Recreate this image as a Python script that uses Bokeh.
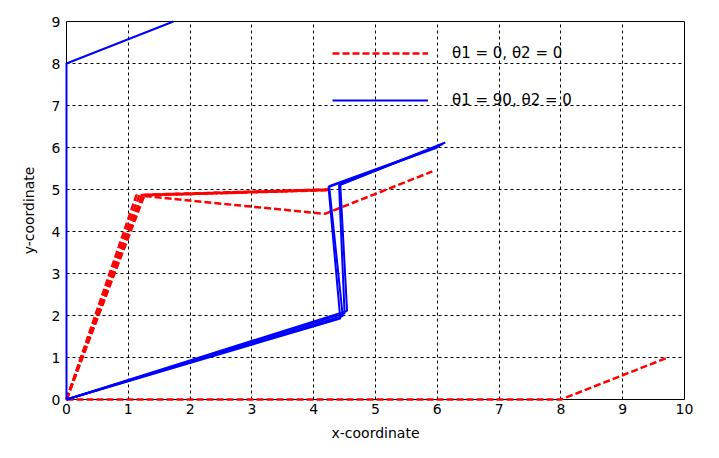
from bokeh.plotting import figure
from bokeh.models import FixedTicker, Legend, LegendItem, Range1d
from bokeh.embed import file_html
from bokeh.resources import INLINE

# ---- data ----
x_ticks = [0, 1, 2, 3, 4, 5, 6, 7, 8, 9, 10]
y_ticks = [0, 1, 2, 3, 4, 5, 6, 7, 8, 9]

# theta1 = 0, theta2 = 0 (red, dashed) - arm traces
red_xs = [
    [0, 5, 8, 9.73],
    [0, 1.13, 4.22],
    [0, 1.18, 4.24],
    [0, 1.23, 4.25],
    [0, 1.26, 4.2],
    [0, 1.22, 4.18, 5.92],
]
red_ys = [
    [0, 0, 0, 1.0],
    [0, 4.86, 4.98],
    [0, 4.87, 5.0],
    [0, 4.87, 5.0],
    [0, 4.86, 4.99],
    [0, 4.85, 4.42, 5.43],
]

# theta1 = 90, theta2 = 0 (blue, solid) - arm traces
blue_xs = [
    [0, 0, 0, 1.73],
    [0, 4.43, 4.24, 6.0],
    [0, 4.47, 4.25, 6.04],
    [0, 4.50, 4.41, 6.09],
    [0, 4.54, 4.43, 6.13],
]
blue_ys = [
    [0, 5, 8, 9.0],
    [0, 1.93, 5.06, 6.00],
    [0, 1.99, 5.08, 6.04],
    [0, 2.05, 5.10, 6.08],
    [0, 2.11, 5.12, 6.12],
]

labels = ["\u03b81 = 0, \u03b82 = 0", "\u03b81 = 90, \u03b82 = 0"]

FONT = "DejaVu Sans"

p = figure(
    frame_width=618, frame_height=378,
    min_border_left=66, min_border_right=30,
    min_border_top=21, min_border_bottom=50,
    x_range=Range1d(0, 10), y_range=Range1d(0, 9),
    output_backend="svg", toolbar_location=None,
    background_fill_color="white", border_fill_color="white",
)

r_red = p.multi_line(red_xs, red_ys, line_color="#ff0000", line_width=2.5,
                     line_dash="7 3", level="overlay")
r_blue = p.multi_line(blue_xs, blue_ys, line_color="#0000ff", line_width=2,
                      level="overlay")

# axes
p.xaxis.ticker = FixedTicker(ticks=x_ticks)
p.yaxis.ticker = FixedTicker(ticks=y_ticks)
p.xaxis.axis_label = "x-coordinate"
p.yaxis.axis_label = "y-coordinate"
for ax in (p.xaxis, p.yaxis):
    ax.axis_line_color = None
    ax.major_tick_in = 0
    ax.major_tick_out = 0
    ax.minor_tick_in = 0
    ax.minor_tick_out = 0
    ax.major_label_text_font = FONT
    ax.major_label_text_font_size = "14px"
    ax.major_label_text_color = "black"
    ax.axis_label_text_font = FONT
    ax.axis_label_text_font_size = "14px"
    ax.axis_label_text_font_style = "normal"
    ax.axis_label_text_color = "black"
p.xaxis.major_label_standoff = 4
p.xaxis.axis_label_standoff = 8
p.yaxis.major_label_standoff = 6
p.yaxis.axis_label_standoff = 12

p.outline_line_color = "black"
p.outline_line_width = 1

for g in (p.xgrid, p.ygrid):
    g.grid_line_color = "black"
    g.grid_line_dash = "3 3"
    g.grid_line_width = 1
    g.grid_line_alpha = 1.0

legend = Legend(
    items=[LegendItem(label=labels[0], renderers=[r_red]),
           LegendItem(label=labels[1], renderers=[r_blue])],
    location=(266, 289),
    border_line_color=None,
    background_fill_alpha=0,
    padding=0, margin=0,
    glyph_width=96, glyph_height=20,
    label_height=20, label_standoff=24,
    spacing=27,
    label_text_font=FONT, label_text_font_size="15px",
    label_text_color="black",
)
p.add_layout(legend, "center")

open("out.html", "w").write(file_html(p, INLINE))
